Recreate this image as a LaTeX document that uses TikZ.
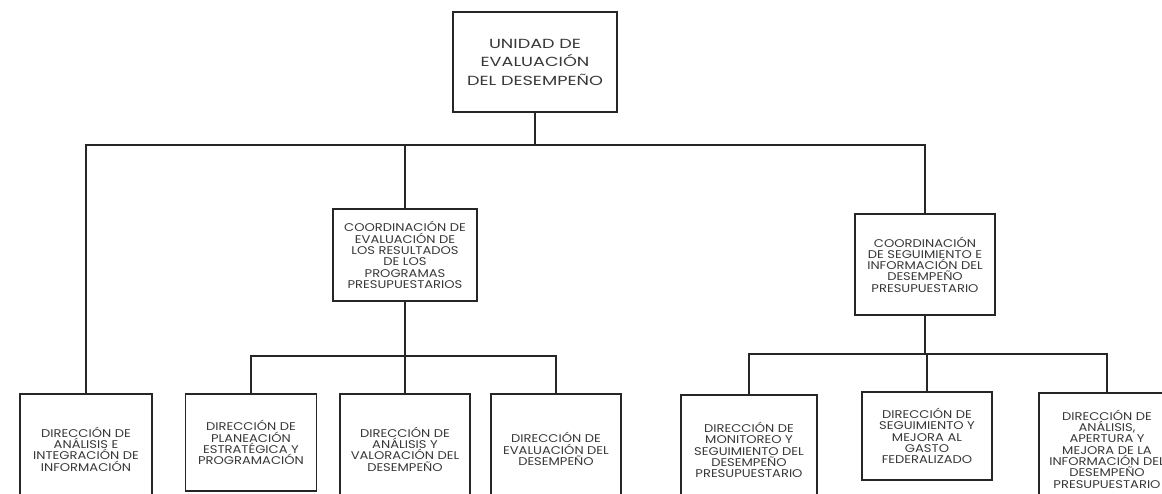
\documentclass[tikz,border=0pt]{standalone}
\usepackage{fontspec}
\setmainfont{Poppins}[FakeStretch=1.17]
\newfontfamily\headfont{Poppins}[FakeStretch=1.34]

\begin{document}
\begin{tikzpicture}[x=1pt,y=-1pt,
    font=\fontsize{11.2}{11.3}\selectfont,
    unitbox/.style={draw=black!85, text=black!78, line width=1.1pt,
        inner sep=0pt, align=center},
    orgline/.style={draw=black!85, line width=1.1pt}
]
\useasboundingbox (0,0) rectangle (1162,493);

\node[unitbox,
    minimum width=164,
    minimum height=100,
    font=\headfont\fontsize{13.2}{18.5}\selectfont
] (unidad) at (535,62) { UNIDAD DE\\EVALUACIÓN\\DEL DESEMPEÑO };

\node[unitbox,
    minimum width=144,
    minimum height=92
] (coordEval) at (405,255) { COORDINACIÓN DE\\EVALUACIÓN DE\\LOS RESULTADOS\\DE LOS\\PROGRAMAS\\PRESUPUESTARIOS };

\node[unitbox,
    minimum width=140,
    minimum height=101
] (coordSeg) at (925,264.5) { COORDINACIÓN\\DE SEGUIMIENTO E\\INFORMACIÓN DEL\\DESEMPEÑO\\PRESUPUESTARIO };

\node[unitbox,
    minimum width=132,
    minimum height=110
] (dirIntegracion) at (86,449) { DIRECCIÓN DE\\ANÁLISIS E\\INTEGRACIÓN DE\\INFORMACIÓN };

\node[unitbox,
    minimum width=131,
    minimum height=97
] (dirPlaneacion) at (251,442.5) { DIRECCIÓN DE\\PLANEACIÓN\\ESTRATÉGICA Y\\PROGRAMACIÓN };

\node[unitbox,
    minimum width=130,
    minimum height=110
] (dirValoracion) at (405,449) { DIRECCIÓN DE\\ANÁLISIS Y\\VALORACIÓN DEL\\DESEMPEÑO };

\node[unitbox,
    minimum width=130,
    minimum height=110
] (dirEvaluacion) at (556,449) { DIRECCIÓN DE\\EVALUACIÓN DEL\\DESEMPEÑO };

\node[unitbox,
    minimum width=136,
    minimum height=110
] (dirMonitoreo) at (749,450) { DIRECCIÓN DE\\MONITOREO Y\\SEGUIMIENTO DEL\\DESEMPEÑO\\PRESUPUESTARIO };

\node[unitbox,
    minimum width=130,
    minimum height=88
] (dirGasto) at (927,436) { DIRECCIÓN DE\\SEGUIMIENTO Y\\MEJORA AL\\GASTO\\FEDERALIZADO };

\node[unitbox,
    minimum width=136,
    minimum height=112
] (dirApertura) at (1107,449) { DIRECCIÓN DE\\ANÁLISIS,\\APERTURA Y\\MEJORA DE LA\\INFORMACIÓN DEL\\DESEMPEÑO\\PRESUPUESTARIO };

% ramales
\coordinate (busTop) at (535,145);
\coordinate (busEval) at (405,356);
\coordinate (busSeg) at (925,354);

\draw[orgline] (unidad) -- (busTop);
\draw[orgline] (busTop) -| (dirIntegracion);
\draw[orgline] (busTop) -| (coordEval);
\draw[orgline] (busTop) -| (coordSeg);

\draw[orgline] (coordEval) -- (busEval);
\draw[orgline] (busEval) -| (dirPlaneacion);
\draw[orgline] (busEval) -| (dirValoracion);
\draw[orgline] (busEval) -| (dirEvaluacion);

\draw[orgline] (coordSeg) -- (busSeg);
\draw[orgline] (busSeg) -| (dirMonitoreo);
\draw[orgline] (busSeg) -| (dirGasto);
\draw[orgline] (busSeg) -| (dirApertura);

\end{tikzpicture}
\end{document}
